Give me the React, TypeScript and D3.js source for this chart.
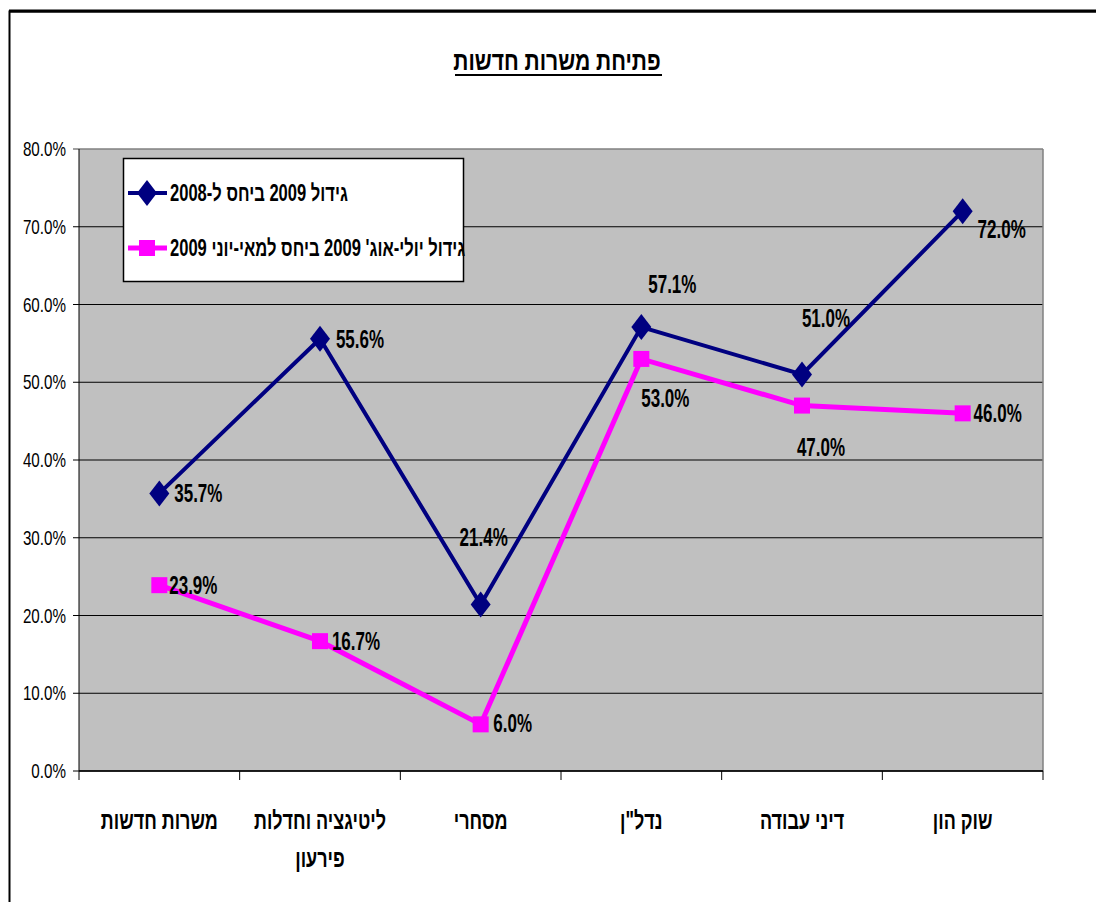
import React from 'react';
import * as d3 from 'd3';

// categories, right-to-left in the original sheet but drawn left to right here as in the picture
const categories = ['משרות חדשות', 'ליטיגציה וחדלות פירעון', 'מסחרי', 'נדל"ן', 'דיני עבודה', 'שוק הון'];
const categoryLines = [['משרות חדשות'], ['ליטיגציה וחדלות', 'פירעון'], ['מסחרי'], ['נדל"ן'], ['דיני עבודה'], ['שוק הון']];

const growth2009 = [0.357, 0.556, 0.214, 0.571, 0.51, 0.72];
const growthJulAug = [0.239, 0.167, 0.06, 0.53, 0.47, 0.46];

const seriesNames = ['גידול 2009 ביחס ל-2008', "גידול יולי-אוג' 2009 ביחס למאי-יוני 2009"];
const yTicks = [0, 0.1, 0.2, 0.3, 0.4, 0.5, 0.6, 0.7, 0.8];
const title = 'פתיחת משרות חדשות';

// label offsets (label centre relative to the point), as placed in the original
const labelOffsets1 = [[39, 0], [40, 0], [3, -68], [31, -43], [24, -56], [39, 18]];
const labelOffsets2 = [[34, 0], [36, 0], [32, -1], [24, 39], [19, 41], [35, 0]];

const NAVY = '#000080';
const PINK = '#FF00FF';
const FONT = '"Liberation Sans", Arial, "DejaVu Sans", sans-serif';

const W = 1096, H = 902;
const left = 79, right = 1043, top = 149, bottom = 771;

const fmt = d3.format('.1%');

const SText = ({x, y, sx, size, bold, anchor, rtl, children}: any) => (
    <text transform={`translate(${x},${y}) scale(${sx},1)`}
          fontFamily={FONT} fontSize={size} fontWeight={bold ? 'bold' : 'normal'}
          textAnchor={anchor || 'middle'} direction={rtl ? 'rtl' : 'ltr'} fill="#000">
        {children}
    </text>
);

const diamond = 'M0,-13L10,0L0,13L-10,0Z';

const App = () => {
    const x = d3.scaleBand().domain(categories).range([left, right]).padding(0);
    const y = d3.scaleLinear().domain([0, 0.8]).range([bottom, top]);
    const cx = (i: number) => (x(categories[i]) as number) + x.bandwidth() / 2;

    const lineGen = d3.line<number>().x((d, i) => cx(i)).y(d => y(d));
    const bounds = d3.range(categories.length + 1).map(i => left + i * x.bandwidth());

    return (
        <svg width={W} height={H} viewBox={`0 0 ${W} ${H}`}
             style={{position: 'absolute', left: 0, top: 0, background: '#fff'}}>
            {/* outer frame */}
            <rect x={9.5} y={11.5} width={W + 20} height={H + 20} fill="none" stroke="#000" strokeWidth={2}/>
            <line x1={9} x2={W} y1={11} y2={11} stroke="#000" strokeWidth={3}/>

            {/* title */}
            <SText x={557} y={70} sx={0.78} size={27} bold rtl>{title}</SText>
            <line x1={455} x2={662} y1={75} y2={75} stroke="#000" strokeWidth={2}/>

            {/* plot area */}
            <rect x={left} y={top} width={right - left} height={bottom - top} fill="#C0C0C0"/>
            {yTicks.map(t => (
                <line key={t} x1={left - 6} x2={right} y1={y(t)} y2={y(t)}
                      stroke={t === 0.8 ? '#808080' : '#000'} strokeWidth={t === 0.8 ? 1.5 : 1}/>
            ))}
            <line x1={right} x2={right} y1={top} y2={bottom} stroke="#808080" strokeWidth={1.5}/>
            <line x1={left} x2={left} y1={top} y2={bottom} stroke="#000" strokeWidth={1}/>
            <line x1={left} x2={right} y1={bottom} y2={bottom} stroke="#000" strokeWidth={1.5}/>
            {bounds.map((b, i) => (
                <line key={i} x1={b} x2={b} y1={bottom} y2={bottom + 9} stroke="#000" strokeWidth={1}/>
            ))}

            {/* y tick labels */}
            {yTicks.map(t => (
                <SText key={t} x={66} y={y(t) + 7} sx={0.76} size={20} anchor="end">{fmt(t)}</SText>
            ))}

            {/* category labels */}
            {categoryLines.map((lines, i) => lines.map((ln, j) => (
                <SText key={i + '-' + j} x={cx(i)} y={829 + j * 38} sx={0.72} size={25} bold rtl>{ln}</SText>
            )))}

            {/* series 1 */}
            <path d={lineGen(growth2009) as string} fill="none" stroke={NAVY} strokeWidth={4}/>
            {growth2009.map((d, i) => (
                <path key={i} d={diamond} transform={`translate(${cx(i)},${y(d)})`} fill={NAVY}/>
            ))}
            {/* series 2 */}
            <path d={lineGen(growthJulAug) as string} fill="none" stroke={PINK} strokeWidth={5}/>
            {growthJulAug.map((d, i) => (
                <rect key={i} x={cx(i) - 8} y={y(d) - 8} width={16} height={16} fill={PINK}/>
            ))}

            {/* data labels */}
            {growth2009.map((d, i) => (
                <SText key={i} x={cx(i) + labelOffsets1[i][0]} y={y(d) + labelOffsets1[i][1] + 9}
                       sx={0.68} size={25} bold>{fmt(d)}</SText>
            ))}
            {growthJulAug.map((d, i) => (
                <SText key={i} x={cx(i) + labelOffsets2[i][0]} y={y(d) + labelOffsets2[i][1] + 9}
                       sx={0.68} size={25} bold>{fmt(d)}</SText>
            ))}

            {/* legend */}
            <rect x={123.5} y={158.5} width={340} height={123} fill="#fff" stroke="#000" strokeWidth={1.5}/>
            <line x1={128} x2={167} y1={193} y2={193} stroke={NAVY} strokeWidth={4}/>
            <path d={diamond} transform="translate(147,193)" fill={NAVY}/>
            <SText x={170} y={201} sx={0.72} size={23} bold anchor="end" rtl>{seriesNames[0]}</SText>
            <line x1={128} x2={167} y1={248} y2={248} stroke={PINK} strokeWidth={5}/>
            <rect x={139} y={240} width={16} height={16} fill={PINK}/>
            <SText x={170} y={256} sx={0.72} size={23} bold anchor="end" rtl>{seriesNames[1]}</SText>
        </svg>
    );
};

export default App;
